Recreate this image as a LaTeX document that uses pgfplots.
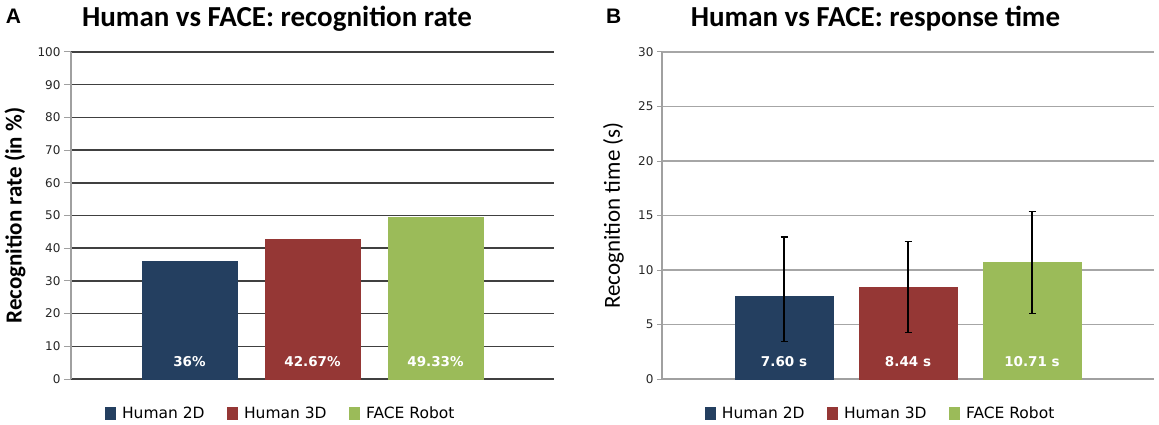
\documentclass[border=0pt]{standalone}
\usepackage{pgfplots}
\pgfplotsset{compat=1.18}
\usepackage{fontspec}
\setmainfont{DejaVu Sans}
\newfontfamily\calibri{Carlito}
\newfontfamily\arialf{Liberation Sans}

\definecolor{hTwo}{HTML}{243F60}
\definecolor{hThree}{HTML}{953735}
\definecolor{faceG}{HTML}{9BBB59}
\definecolor{gridDark}{HTML}{404040}
\definecolor{gridLight}{HTML}{A6A6A6}
\definecolor{axGray}{HTML}{A0A0A0}

\tikzset{barlbl/.style={text=white, font=\bfseries\fontsize{13.5}{16}\selectfont}}

\pgfplotsset{
  sqlegend/.style={legend image code/.code={\fill[##1] (0pt,-6pt) rectangle (10pt,6pt);}},
  panel/.style={
    scale only axis,
    anchor=south west,
    axis x line*=bottom,
    axis y line*=left,
    xtick=\empty,
    ymajorgrids,
    tick align=outside,
    ytick style={draw=axGray, line width=1pt},
    y axis line style={draw=axGray, line width=1.2pt},
    yticklabel style={font=\fontsize{12}{14}\selectfont, text=black!85},
    /pgf/number format/assume math mode=true,
    clip=false,
    legend columns=3,
    legend style={draw=none, fill=none, anchor=center,
      font=\fontsize{15.5}{18}\selectfont,
      nodes={inner sep=0pt}, cells={anchor=west},
      /tikz/every odd column/.append style={column sep=7pt},
      /tikz/every even column/.append style={column sep=22pt}},
  },
}

\begin{document}
\begin{tikzpicture}
\useasboundingbox (0,0) rectangle (1159pt,-425pt);

% panel A
\begin{axis}[panel,
  at={(71pt,-379pt)},
  width=483pt, height=327pt,
  xmin=0.037, xmax=3.963,
  ymin=0, ymax=100, ytick={0,10,...,100},
  major tick length=7pt,
  major grid style={draw=gridDark, line width=1.5pt},
  x axis line style={draw=gridDark, line width=1.5pt},
  every axis y label/.style={at={(axis description cs:-0.1023,0.5)}, rotate=90, anchor=base,
    font=\calibri\bfseries\fontsize{23}{26}\selectfont},
  ylabel={Recognition rate (in \%)},
  legend style={at={(0.4317,-0.104)}},
]
\addplot[ybar, bar width=0.768, bar shift=0pt, fill=hTwo, draw=hTwo, sqlegend]
  coordinates {(1,36)};
\addplot[ybar, bar width=0.768, bar shift=0pt, fill=hThree, draw=hThree, sqlegend]
  coordinates {(2,42.67)};
\addplot[ybar, bar width=0.768, bar shift=0pt, fill=faceG, draw=faceG, sqlegend]
  coordinates {(3,49.33)};
\legend{Human 2D, Human 3D, FACE Robot}
\node[barlbl] at (axis cs:1,5.2) {36\%};
\node[barlbl] at (axis cs:2,5.2) {42.67\%};
\node[barlbl] at (axis cs:3,5.2) {49.33\%};
\end{axis}

% panel B
\begin{axis}[panel,
  at={(662pt,-379pt)},
  width=492pt, height=327pt,
  xmin=0.016, xmax=3.984,
  ymin=0, ymax=30, ytick={0,5,...,30},
  major tick length=5pt,
  major grid style={draw=gridLight, line width=1.5pt},
  x axis line style={draw=axGray, line width=1.5pt},
  every axis y label/.style={at={(axis description cs:-0.0854,0.5)}, rotate=90, anchor=base,
    font=\calibri\fontsize{23}{26}\selectfont},
  ylabel={Recognition time (s)},
  legend style={at={(0.442,-0.104)}},
  error bars/error bar style={draw=black, line width=1.2pt},
  error bars/error mark options={rotate=90, mark size=3.5pt, draw=black, line width=1.2pt},
]
\addplot[ybar, bar width=0.79, bar shift=0pt, fill=hTwo, draw=hTwo, sqlegend,
  error bars/.cd, y dir=both, y explicit]
  coordinates {(1,7.60) += (0,5.43) -= (0,4.18)};
\addplot[ybar, bar width=0.79, bar shift=0pt, fill=hThree, draw=hThree, sqlegend,
  error bars/.cd, y dir=both, y explicit]
  coordinates {(2,8.44) += (0,4.21) -= (0,4.16)};
\addplot[ybar, bar width=0.79, bar shift=0pt, fill=faceG, draw=faceG, sqlegend,
  error bars/.cd, y dir=both, y explicit]
  coordinates {(3,10.71) += (0,4.69) -= (0,4.72)};
\legend{Human 2D, Human 3D, FACE Robot}
\node[barlbl] at (axis cs:1,1.6) {7.60 s};
\node[barlbl] at (axis cs:2,1.6) {8.44 s};
\node[barlbl] at (axis cs:3,1.6) {10.71 s};
\end{axis}

% titles
\node[anchor=base, inner sep=0pt, font=\calibri\bfseries\fontsize{29}{34}\selectfont]
  at (277pt,-27pt) {Human vs FACE: recognition rate};
\node[anchor=base, inner sep=0pt, font=\calibri\bfseries\fontsize{29}{34}\selectfont]
  at (875.5pt,-27pt) {Human vs FACE: response time};
\node[anchor=base west, inner sep=0pt, font=\arialf\bfseries\fontsize{21}{24}\selectfont]
  at (5.6pt,-24pt) {A};
\node[anchor=base west, inner sep=0pt, font=\arialf\bfseries\fontsize{21}{24}\selectfont]
  at (606pt,-24pt) {B};
\end{tikzpicture}
\end{document}
